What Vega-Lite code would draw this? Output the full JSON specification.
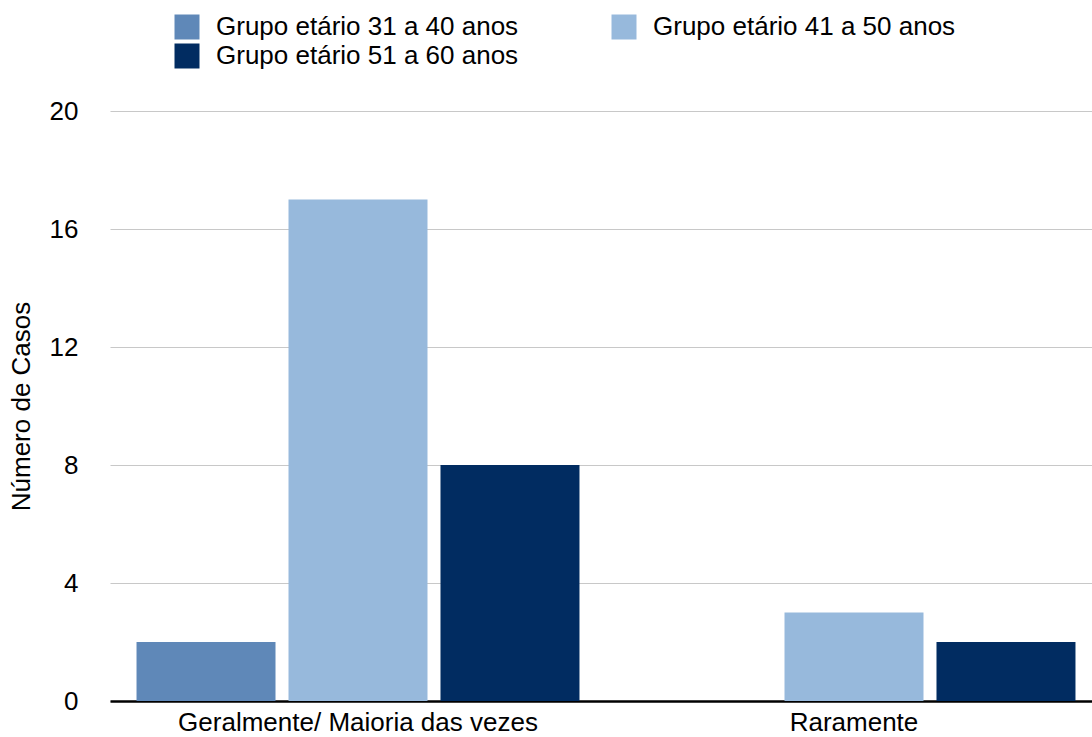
{
  "$schema": "https://vega.github.io/schema/vega-lite/v6.json",
  "autosize": {"type": "none"},
  "width": 982,
  "height": 590,
  "padding": {"left": 110, "top": 111, "right": 0, "bottom": 36},
  "background": "white",
  "config": {
    "font": "Liberation Sans",
    "view": {"stroke": null}
  },
  "data": {
    "values": [
      {"frequencia": "Geralmente/ Maioria das vezes", "grupo": "Grupo etário 31 a 40 anos", "casos": 2},
      {"frequencia": "Geralmente/ Maioria das vezes", "grupo": "Grupo etário 41 a 50 anos", "casos": 17},
      {"frequencia": "Geralmente/ Maioria das vezes", "grupo": "Grupo etário 51 a 60 anos", "casos": 8},
      {"frequencia": "Raramente", "grupo": "Grupo etário 31 a 40 anos", "casos": 0},
      {"frequencia": "Raramente", "grupo": "Grupo etário 41 a 50 anos", "casos": 3},
      {"frequencia": "Raramente", "grupo": "Grupo etário 51 a 60 anos", "casos": 2}
    ]
  },
  "mark": {"type": "bar"},
  "encoding": {
    "x": {
      "field": "frequencia",
      "type": "nominal",
      "sort": null,
      "scale": {"paddingInner": 0, "paddingOuter": 0, "range": [0, 992]},
      "axis": {
        "title": null,
        "labelAngle": 0,
        "labelFontSize": 26,
        "labelColor": "#000000",
        "labelPadding": 8,
        "labelLimit": 1000,
        "ticks": false,
        "domainColor": "#000000",
        "domainWidth": 2.5,
        "grid": false
      }
    },
    "xOffset": {
      "field": "grupo",
      "type": "nominal",
      "scale": {"paddingInner": 0.0855, "paddingOuter": 0.1745}
    },
    "y": {
      "field": "casos",
      "type": "quantitative",
      "scale": {"domain": [0, 20], "nice": false},
      "axis": {
        "title": "Número de Casos",
        "titleFontSize": 26,
        "titleFontWeight": "normal",
        "titleColor": "#000000",
        "titleAngle": -90,
        "titleX": -89,
        "titleY": 295,
        "titleAlign": "center",
        "titleBaseline": "middle",
        "values": [0, 4, 8, 12, 16, 20],
        "labelFontSize": 26,
        "labelColor": "#000000",
        "labelPadding": 32,
        "ticks": false,
        "domain": false,
        "grid": true,
        "gridColor": "#c8c8c8",
        "gridWidth": 1.2
      }
    },
    "color": {
      "field": "grupo",
      "type": "nominal",
      "scale": {
        "domain": ["Grupo etário 31 a 40 anos", "Grupo etário 41 a 50 anos", "Grupo etário 51 a 60 anos"],
        "range": ["#5f88b8", "#97b9dc", "#012c61"]
      },
      "legend": {
        "title": null,
        "orient": "none",
        "legendX": 64,
        "legendY": -97,
        "direction": "horizontal",
        "columns": 2,
        "columnPadding": 92,
        "rowPadding": 3,
        "padding": 0,
        "symbolType": "square",
        "symbolSize": 625,
        "symbolStrokeWidth": 0,
        "symbolOpacity": 1,
        "labelFontSize": 26,
        "labelColor": "#000000",
        "labelOffset": 16,
        "labelLimit": 600
      }
    }
  }
}
